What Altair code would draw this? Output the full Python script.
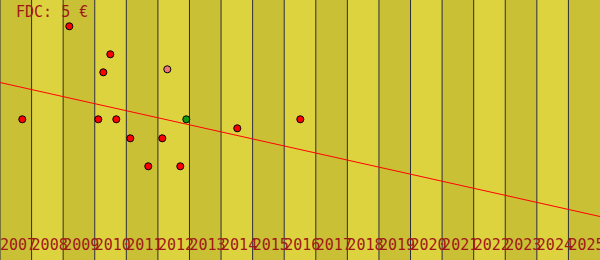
import altair as alt
import pandas as pd

years = list(range(2007, 2026))
band_dark = "#c9c036"
band_light = "#ddd33f"

pt_year = [2007.706, 2009.195, 2010.493, 2010.271, 2010.113, 2010.683, 2011.126,
           2011.696, 2012.140, 2012.710, 2012.298, 2012.900, 2014.514, 2016.510]
pt_value = [14.07, 23.37, 20.57, 18.77, 14.07, 14.07, 12.17,
            9.37, 12.17, 9.37, 19.07, 14.07, 13.17, 14.07]
pt_kind = ["red", "red", "red", "red", "red", "red", "red",
           "red", "red", "red", "pink", "green", "red", "red"]

trend_year = [2007, 2026]
trend_value = [17.75, 4.35]

title_text = "FDC: 5 €"

xs = alt.Scale(domain=[2007, 2026], nice=False, zero=False)
ys = alt.Scale(domain=[0, 26], nice=False, zero=False)

bands = pd.DataFrame({
    "y0": years,
    "y1": [y + 1 for y in years],
    "shade": ["dark" if i % 2 == 0 else "light" for i in range(len(years))],
    "label": [str(y) for y in years],
})
points = pd.DataFrame({"year": pt_year, "value": pt_value, "kind": pt_kind})
trend = pd.DataFrame({"year": trend_year, "value": trend_value})

band_layer = alt.Chart(bands).mark_rect(strokeWidth=0).encode(
    x=alt.X("y0:Q", scale=xs, axis=None),
    x2="y1:Q",
    y=alt.value(0),
    y2=alt.value(260),
    color=alt.Color("shade:N", scale=alt.Scale(domain=["dark", "light"],
                                              range=[band_dark, band_light]), legend=None),
)

rule_layer = alt.Chart(bands).mark_rule(color="#2b2b38", strokeWidth=1).encode(
    x=alt.X("y0:Q", scale=xs, axis=None),
    y=alt.value(0),
    y2=alt.value(260),
)

label_layer = alt.Chart(bands).mark_text(
    align="left", baseline="alphabetic", font="DejaVu Sans Mono",
    fontSize=15, color="#a01818"
).encode(
    x=alt.X("y0:Q", scale=xs, axis=None),
    y=alt.value(250),
    text="label:N",
)

trend_layer = alt.Chart(trend).mark_line(color="#ff0000", strokeWidth=1).encode(
    x=alt.X("year:Q", scale=xs, axis=None),
    y=alt.Y("value:Q", scale=ys, axis=None),
)

point_layer = alt.Chart(points).mark_point(
    filled=True, size=50, stroke="black", strokeWidth=1, opacity=1
).encode(
    x=alt.X("year:Q", scale=xs, axis=None),
    y=alt.Y("value:Q", scale=ys, axis=None),
    fill=alt.Fill("kind:N", scale=alt.Scale(domain=["red", "pink", "green"],
                                           range=["#ff0000", "#f07878", "#109a10"]), legend=None),
)

title_layer = alt.Chart(pd.DataFrame({"t": [title_text]})).mark_text(
    align="left", baseline="alphabetic", font="DejaVu Sans Mono",
    fontSize=15, color="#a01818"
).encode(
    x=alt.value(16),
    y=alt.value(17),
    text="t:N",
)

chart = alt.layer(
    band_layer, rule_layer, label_layer, trend_layer, point_layer, title_layer
).properties(
    width=600, height=260, padding=0, autosize=alt.AutoSizeParams(type="none")
).configure_view(stroke=None).resolve_scale(color="independent")

chart.save("out.html", embed_options={"renderer": "svg", "actions": False})
